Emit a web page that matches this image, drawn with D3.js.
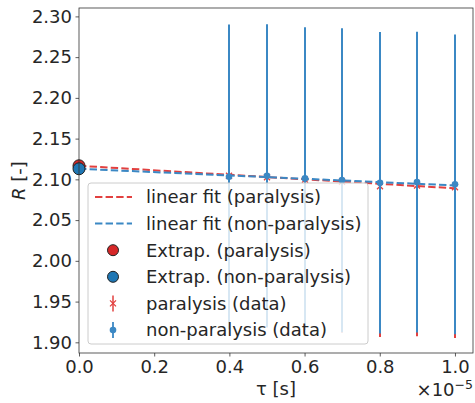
<!DOCTYPE html>
<html><head><meta charset="utf-8">
<script src="https://cdn.jsdelivr.net/npm/d3@7"></script>
<style>body{margin:0;background:#fff}svg{display:block}text{font-family:"DejaVu Sans",sans-serif;fill:#262626}</style>
</head><body><svg id="c" width="475" height="403"></svg>
<script>
const tau = [4e-6, 5e-6, 6e-6, 7e-6, 8e-6, 9e-6, 1e-5];
const rNonPar = [2.1032, 2.1044, 2.1012, 2.0990, 2.0958, 2.0967, 2.0939];
const errNonPar = [0.187, 0.186, 0.1855, 0.1865, 0.185, 0.1846, 0.184];
const rPar = [2.1045, 2.1025, 2.0995, 2.0970, 2.0916, 2.0925, 2.0904];
const errPar = [0.184, 0.184, 0.184, 0.185, 0.185, 0.185, 0.185];
const fitTau = [0, 1e-5];
const fitPar = [2.1167, 2.0890];
const fitNonPar = [2.1130, 2.0925];
const extrapPar = 2.1167, extrapNonPar = 2.1130;
const xTicks = [0, 2e-6, 4e-6, 6e-6, 8e-6, 1e-5];
const yTicks = [1.90, 1.95, 2.00, 2.05, 2.10, 2.15, 2.20, 2.25, 2.30];
const legendLabels = ["linear fit (paralysis)", "linear fit (non-paralysis)", "Extrap. (paralysis)", "Extrap. (non-paralysis)", "paralysis (data)", "non-paralysis (data)"];

const RED = "#d62728", BLUE = "#1f77b4";
const RED_L = "#e2403f", BLUE_L = "#3b88c4";
const L = 79, R = 473, T = 8, B = 353;
const svg = d3.select("#c");
const x = d3.scaleLinear().domain([0, 1.048e-5]).range([L, R]);
const y = d3.scaleLinear().domain([1.8869, 2.3103]).range([B, T]);
const FS = "18px";

svg.append("clipPath").attr("id", "clip").append("rect").attr("x", L).attr("y", T).attr("width", R - L).attr("height", B - T);
const plot = svg.append("g").attr("clip-path", "url(#clip)");

// fit lines
const line = d3.line().x(d => x(d[0])).y(d => y(d[1]));
plot.append("path").datum(fitTau.map((t, i) => [t, fitPar[i]])).attr("d", line)
  .attr("fill", "none").attr("stroke", RED_L).attr("stroke-width", 2).attr("stroke-dasharray", "7.4,3.2");
plot.append("path").datum(fitTau.map((t, i) => [t, fitNonPar[i]])).attr("d", line)
  .attr("fill", "none").attr("stroke", BLUE_L).attr("stroke-width", 2).attr("stroke-dasharray", "7.4,3.2");

const px = t => Math.round(x(t));
// paralysis errorbars
tau.forEach((t, i) => {
  plot.append("line").attr("x1", px(t)).attr("x2", px(t)).attr("y1", y(rPar[i] - errPar[i])).attr("y2", y(rPar[i] + errPar[i]))
    .attr("stroke", RED_L).attr("stroke-width", 2);
  const cx = px(t), cy = y(rPar[i]), s = 3;
  plot.append("path").attr("d", `M${cx - s},${cy - s}L${cx + s},${cy + s}M${cx - s},${cy + s}L${cx + s},${cy - s}`)
    .attr("stroke", RED_L).attr("stroke-width", 1.3);
});
// non-paralysis errorbars
tau.forEach((t, i) => {
  plot.append("line").attr("x1", px(t)).attr("x2", px(t)).attr("y1", y(rNonPar[i] - errNonPar[i])).attr("y2", y(rNonPar[i] + errNonPar[i]))
    .attr("stroke", BLUE_L).attr("stroke-width", 2);
  plot.append("circle").attr("cx", px(t)).attr("cy", y(rNonPar[i])).attr("r", 3.3).attr("fill", BLUE_L);
});

// extrapolated points
svg.append("circle").attr("cx", x(0)).attr("cy", y(extrapPar)).attr("r", 6).attr("fill", RED).attr("stroke", "#222").attr("stroke-width", 1);
svg.append("circle").attr("cx", x(0)).attr("cy", y(extrapNonPar)).attr("r", 6).attr("fill", BLUE).attr("stroke", "#222").attr("stroke-width", 1);

// axes
const xAxis = d3.axisBottom(x).tickValues(xTicks).tickSize(3.5).tickPadding(3.5).tickFormat(d => (d / 1e-5).toFixed(1));
const yAxis = d3.axisLeft(y).tickValues(yTicks).tickSize(3.5).tickPadding(3.5).tickFormat(d3.format(".2f"));
const gx = svg.append("g").attr("transform", `translate(0,${B})`).call(xAxis);
const gy = svg.append("g").attr("transform", `translate(${L},0)`).call(yAxis);
[gx, gy].forEach(g => {
  g.select(".domain").remove();
  g.selectAll("line").attr("stroke", "#333").attr("stroke-width", 0.8);
  g.selectAll("text").style("font-size", FS).attr("fill", "#262626");
});
svg.append("rect").attr("x", L).attr("y", T).attr("width", R - L).attr("height", B - T)
  .attr("fill", "none").attr("stroke", "#333").attr("stroke-width", 0.8);

// labels
svg.append("text").attr("x", (L + R) / 2).attr("y", 395).attr("text-anchor", "middle").style("font-size", FS).text("τ [s]");
const yl = svg.append("text").attr("transform", `translate(25,${(T + B) / 2}) rotate(-90)`).attr("text-anchor", "middle").style("font-size", FS);
yl.append("tspan").style("font-style", "italic").text("R");
yl.append("tspan").text(" [-]");
const off = svg.append("text").attr("x", R).attr("y", 396).attr("text-anchor", "end").style("font-size", FS);
off.append("tspan").text("×10");
off.append("tspan").attr("dy", -7).style("font-size", "12.5px").text("−5");

// legend
const lg = svg.append("g");
lg.append("rect").attr("x", 88).attr("y", 183).attr("width", 280).attr("height", 161).attr("rx", 3)
  .attr("fill", "#fff").attr("fill-opacity", 0.8).attr("stroke", "#ccc").attr("stroke-width", 1);
const rowY = i => 197 + i * 26.6;
const hx0 = 95, hx1 = 132, hc = 113;
legendLabels.forEach((lab, i) => {
  lg.append("text").attr("x", 146).attr("y", rowY(i)).attr("dy", "0.35em").style("font-size", FS).text(lab);
});
lg.append("line").attr("x1", hx0).attr("x2", hx1).attr("y1", rowY(0)).attr("y2", rowY(0)).attr("stroke", RED_L).attr("stroke-width", 2).attr("stroke-dasharray", "7.4,3.2");
lg.append("line").attr("x1", hx0).attr("x2", hx1).attr("y1", rowY(1)).attr("y2", rowY(1)).attr("stroke", BLUE_L).attr("stroke-width", 2).attr("stroke-dasharray", "7.4,3.2");
lg.append("circle").attr("cx", hc).attr("cy", rowY(2)).attr("r", 5.5).attr("fill", RED).attr("stroke", "#222");
lg.append("circle").attr("cx", hc).attr("cy", rowY(3)).attr("r", 5.5).attr("fill", BLUE).attr("stroke", "#222");
lg.append("line").attr("x1", hc).attr("x2", hc).attr("y1", rowY(4) - 8).attr("y2", rowY(4) + 8).attr("stroke", RED_L).attr("stroke-width", 1.5);
lg.append("path").attr("d", `M${hc - 3},${rowY(4) - 3}L${hc + 3},${rowY(4) + 3}M${hc - 3},${rowY(4) + 3}L${hc + 3},${rowY(4) - 3}`).attr("stroke", RED_L).attr("stroke-width", 1.3);
lg.append("line").attr("x1", hc).attr("x2", hc).attr("y1", rowY(5) - 8).attr("y2", rowY(5) + 8).attr("stroke", BLUE_L).attr("stroke-width", 1.8);
lg.append("circle").attr("cx", hc).attr("cy", rowY(5)).attr("r", 3.3).attr("fill", BLUE_L);
</script></body></html>
